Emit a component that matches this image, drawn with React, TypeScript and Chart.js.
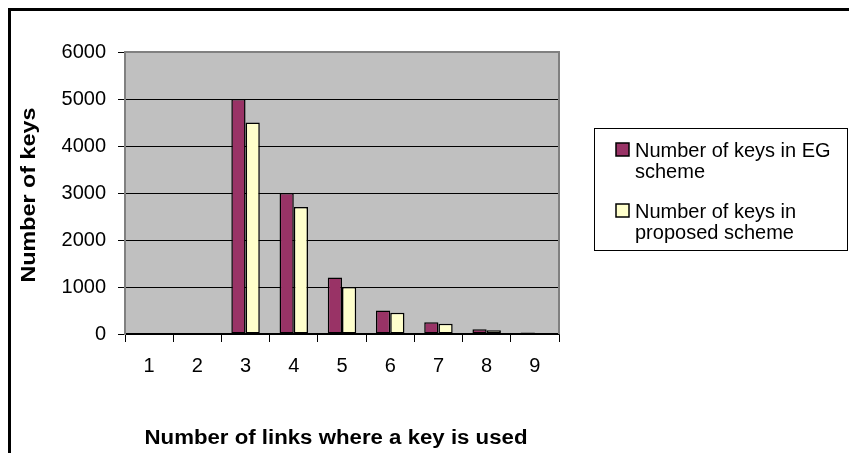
import { useEffect, useRef } from "react";
import { Chart, registerables } from "chart.js";

Chart.register(...registerables);

const categories = ["1", "2", "3", "4", "5", "6", "7", "8", "9"];
const egKeys = [0, 0, 5000, 3000, 1200, 500, 250, 100, 30];
const proposedKeys = [0, 0, 4500, 2700, 1000, 450, 220, 80, 20];
const seriesLabels = ["Number of keys in EG scheme", "Number of keys in proposed scheme"];
const legendLines = [
  ["Number of keys in EG", "scheme"],
  ["Number of keys in", "proposed scheme"],
];
const yMin = 0;
const yMax = 6000;
const yStep = 1000;
const xTitle = "Number of links where a key is used";
const yTitle = "Number of keys";

const FONT = "'Liberation Sans', Arial, sans-serif";

function fittedText(ctx: CanvasRenderingContext2D, text: string, width: number) {
  const w = ctx.measureText(text).width;
  ctx.save();
  ctx.scale(width / w, 1);
  ctx.fillText(text, 0, 0);
  ctx.restore();
}

const decorPlugin = {
  id: "decor",
  beforeDraw(chart: any) {
    const ctx: CanvasRenderingContext2D = chart.ctx;
    const { left, top, right, bottom } = chart.chartArea;
    ctx.save();
    ctx.fillStyle = "#ffffff";
    ctx.fillRect(0, 0, chart.width, chart.height);
    ctx.strokeStyle = "#000000";
    ctx.lineWidth = 3;
    ctx.strokeRect(9.5, 9.5, chart.width + 20, chart.height + 20);
    ctx.fillStyle = "#C0C0C0";
    ctx.fillRect(left, top, right - left, bottom - top);
    ctx.restore();
  },
  beforeDatasetsDraw(chart: any) {
    const ctx: CanvasRenderingContext2D = chart.ctx;
    const { left, top, right, bottom } = chart.chartArea;
    ctx.save();
    ctx.strokeStyle = "#808080";
    ctx.lineWidth = 2;
    ctx.beginPath();
    ctx.moveTo(left, top);
    ctx.lineTo(right, top);
    ctx.lineTo(right, bottom);
    ctx.stroke();
    ctx.restore();
  },
  afterDraw(chart: any) {
    const ctx: CanvasRenderingContext2D = chart.ctx;
    const { left, right } = chart.chartArea;
    ctx.save();
    // legend box
    ctx.strokeStyle = "#000000";
    ctx.lineWidth = 1;
    ctx.strokeRect(594.5, 128.5, 253, 122);
    ctx.font = `20px ${FONT}`;
    ctx.textAlign = "left";
    ctx.textBaseline = "alphabetic";
    const baselines = [157, 218];
    chart.data.datasets.forEach((ds: any, i: number) => {
      const b = baselines[i];
      ctx.fillStyle = ds.backgroundColor;
      ctx.fillRect(616, b - 14, 13, 13);
      ctx.strokeStyle = "#000000";
      ctx.lineWidth = 1.5;
      ctx.strokeRect(616, b - 14, 13, 13);
      ctx.fillStyle = "#000000";
      legendLines[i].forEach((line, j) => {
        ctx.fillText(line, 635, b + j * 21);
      });
    });
    // axis titles
    ctx.fillStyle = "#000000";
    ctx.font = `bold 20px ${FONT}`;
    ctx.textAlign = "center";
    ctx.textBaseline = "alphabetic";
    ctx.save();
    ctx.translate((left + right) / 2 - 6, 444);
    fittedText(ctx, xTitle, 383);
    ctx.restore();
    ctx.save();
    ctx.translate(35, 195);
    ctx.rotate(-Math.PI / 2);
    fittedText(ctx, yTitle, 175);
    ctx.restore();
    ctx.restore();
  },
};

export default function App() {
  const canvasRef = useRef<HTMLCanvasElement | null>(null);

  useEffect(() => {
    const canvas = canvasRef.current;
    if (!canvas) return;
    const chart = new Chart(canvas, {
      type: "bar",
      data: {
        labels: categories,
        datasets: [
          {
            label: seriesLabels[0],
            data: egKeys,
            backgroundColor: "#993366",
            borderColor: "#000000",
            borderWidth: 1.5,
            borderSkipped: false,
          },
          {
            label: seriesLabels[1],
            data: proposedKeys,
            backgroundColor: "#FFFFCC",
            borderColor: "#000000",
            borderWidth: 1.5,
            borderSkipped: false,
          },
        ],
      },
      options: {
        responsive: false,
        animation: false,
        devicePixelRatio: 1,
        layout: { padding: { left: 0, top: 52, right: 290, bottom: 0 } },
        datasets: { bar: { categoryPercentage: 0.59, barPercentage: 1.0 } },
        plugins: {
          legend: { display: false },
          tooltip: { enabled: false },
          title: { display: false },
        },
        scales: {
          x: {
            offset: true,
            grid: {
              offset: true,
              drawOnChartArea: false,
              drawTicks: true,
              tickLength: 8,
              color: "#000000",
              lineWidth: 1,
            },
            border: { color: "#000000", width: 1.5 },
            ticks: {
              color: "#000000",
              font: { family: FONT, size: 20 },
              padding: 12,
              maxRotation: 0,
            },
            afterFit: (s: any) => {
              s.height = 119;
            },
          },
          y: {
            min: yMin,
            max: yMax,
            grid: {
              color: "#000000",
              lineWidth: 1,
              drawTicks: true,
              tickLength: 7,
            },
            border: { color: "#808080", width: 2 },
            ticks: {
              stepSize: yStep,
              color: "#000000",
              font: { family: FONT, size: 20 },
              padding: 12,
              callback: (v: any) => String(v),
            },
            afterFit: (s: any) => {
              s.width = 125;
            },
          },
        },
      },
      plugins: [decorPlugin],
    });
    return () => chart.destroy();
  }, []);

  return (
    <div style={{ position: "absolute", left: 0, top: 0, width: 849, height: 453 }}>
      <canvas ref={canvasRef} width={849} height={453} style={{ display: "block" }} />
    </div>
  );
}
